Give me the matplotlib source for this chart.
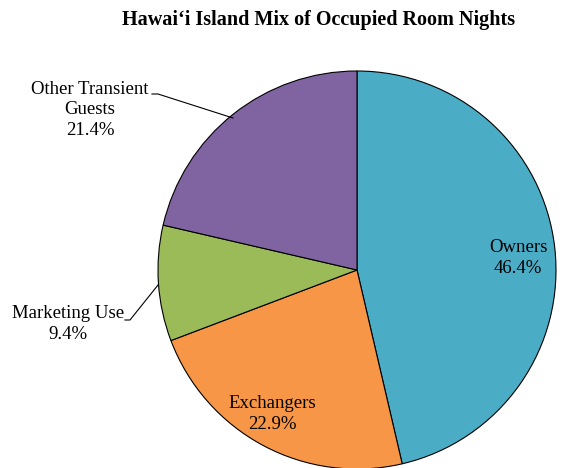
import matplotlib
matplotlib.use('Agg')
from matplotlib import pyplot as plt

plt.rcParams['font.family'] = ['Liberation Serif', 'DejaVu Serif']

# Data
categories = ['Owners', 'Exchangers', 'Marketing Use', 'Other Transient\nGuests']
shares = [46.4, 22.9, 9.4, 21.4]
colors = ['#4BACC6', '#F79646', '#9BBB59', '#8064A2']

fig = plt.figure(figsize=(5.83, 4.68), dpi=100)

# pie centred at pixel (357, 270), radius ~199 px
cx, cy, r = 357, 270, 199
W, H = 583, 468
ax = fig.add_axes([(cx - r) / W, (H - cy - r) / H, 2 * r / W, 2 * r / H])

ax.pie(shares, colors=colors, startangle=90, counterclock=False, radius=1,
       wedgeprops={'edgecolor': 'black', 'linewidth': 0.8})
ax.set_xlim(-1, 1)
ax.set_ylim(-1, 1)
ax.set_aspect('equal')
ax.axis('off')


def px(x, y):
    # pixel position -> data coords of the pie axes
    return (x - cx) / r, (cy - y) / r


labelFormat = {'fontsize': 13.5, 'ha': 'center', 'va': 'center', 'linespacing': 1.3}

# labels inside the larger slices
ax.text(*px(518, 258), categories[0] + '\n' + '%.1f%%' % shares[0], **labelFormat)
ax.text(*px(272, 414), categories[1] + '\n' + '%.1f%%' % shares[1], **labelFormat)

# outside labels with leader lines
ax.text(*px(68, 324), categories[2] + '\n' + '%.1f%%' % shares[2], **labelFormat)
ax.text(*px(90, 110), categories[3] + '\n' + '%.1f%%' % shares[3], **labelFormat)

x1, y1 = zip(px(125, 320), px(130, 320), px(158, 285))
ax.plot(x1, y1, color='black', lw=0.8, clip_on=False)
x2, y2 = zip(px(152, 94), px(158, 94), px(233, 118))
ax.plot(x2, y2, color='black', lw=0.8, clip_on=False)

fig.text(319 / W, 1 - 20 / H, 'Hawai\u2018i Island Mix of Occupied Room Nights',
         ha='center', va='center', fontsize=14.5, fontweight='bold')

fig.savefig('out.png', dpi=100)
